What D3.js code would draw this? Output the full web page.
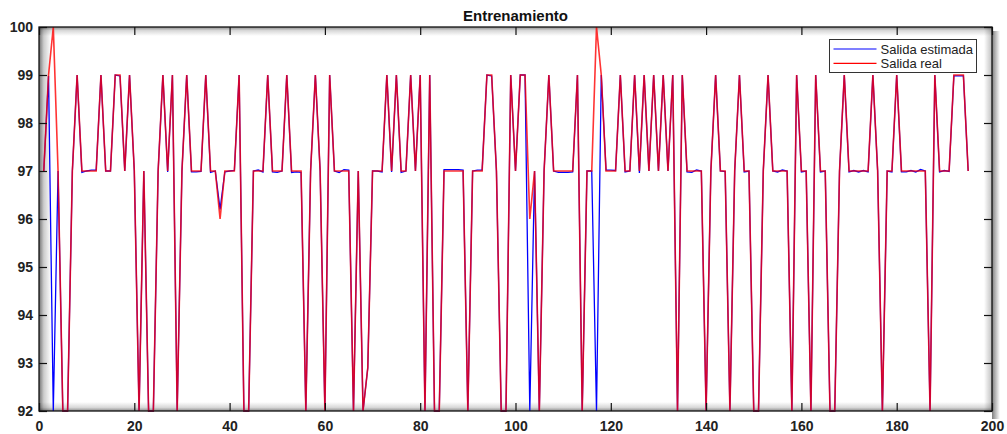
<!DOCTYPE html>
<html>
<head>
<meta charset="utf-8">
<script src="https://cdn.jsdelivr.net/npm/d3@7"></script>
<style>
  html, body { margin: 0; padding: 0; background: #fff; }
  svg { display: block; font-family: "Liberation Sans", Arial, Helvetica, sans-serif; }
</style>
</head>
<body>
<svg id="chart" width="1007" height="434"></svg>
<script>
// Sample numbers (1..195) and the two output series
const sampleCount = 195;

const salidaReal = [
  97, 99, 100, 97, 92, 92, 97, 99, 97, 97,
  97, 97, 99, 97, 97, 99, 99, 97, 99, 97,
  92, 97, 92, 92, 97, 99, 97, 99, 92, 97,
  99, 97, 97, 97, 99, 97, 97, 96, 97, 97,
  97, 99, 92, 92, 97, 97, 97, 99, 97, 97,
  97, 99, 97, 97, 97, 92, 97, 99, 97, 92,
  99, 97, 97, 97, 97, 92, 97, 92, 92.9, 97,
  97, 97, 99, 97, 99, 97, 97, 99, 97, 99,
  92, 99, 92, 92, 97, 97, 97, 97, 97, 92,
  97, 97, 97, 99, 99, 97, 92, 92, 99, 97,
  99, 99, 96, 97, 92, 97, 99, 97, 97, 97,
  97, 97, 99, 92, 97, 97, 100, 99, 97, 97,
  97, 99, 97, 97, 99, 97, 99, 97, 99, 97,
  99, 97, 99, 92, 99, 97, 97, 97, 97, 92,
  97, 99, 97, 97, 92, 97, 99, 97, 97, 92,
  92, 97, 99, 97, 97, 97, 97, 92, 99, 97,
  97, 92, 99, 97, 97, 92, 92, 97, 99, 97,
  97, 97, 97, 97, 99, 97, 92, 97, 97, 99,
  97, 97, 97, 97, 97, 97, 92, 99, 97, 97,
  97, 99, 99, 99, 97
];

const salidaEstimada = [
  97, 98.98, 92, 97, 92, 92, 97, 99, 96.97, 97,
  97.02, 97.02, 99, 97, 97, 99, 98.98, 97, 99, 97,
  92, 97, 92, 92, 97, 99, 96.98, 99, 92, 97,
  99, 96.98, 96.98, 96.99, 99, 96.97, 97, 96.2, 96.98, 97,
  97.01, 99, 92, 92, 97, 97.02, 96.98, 99, 96.98, 96.97,
  97, 99, 96.97, 96.98, 96.97, 92, 97, 99, 97, 92,
  99, 97, 96.97, 97.03, 97.02, 92, 97, 92, 92.9, 97,
  97, 96.98, 99, 96.98, 99, 96.97, 97, 99, 97, 99,
  92, 99, 92, 92, 97.03, 97.03, 97.03, 97.03, 97.02, 92,
  97, 97.02, 97.02, 99, 98.98, 97, 92, 92, 99, 97,
  99, 99, 92, 97, 92, 97, 99, 97, 96.97, 96.97,
  96.97, 96.98, 99, 92, 97, 97, 92, 99, 97.02, 97.02,
  97.01, 99, 96.98, 97, 99, 96.96, 99, 97, 99, 97,
  99, 97, 99, 92, 99, 96.98, 96.97, 97.02, 97, 92,
  97, 99, 97, 96.99, 92, 97, 99, 96.98, 97, 92,
  92, 97, 99, 97, 96.98, 97.02, 97, 92, 99, 96.98,
  97, 92, 99, 96.98, 97, 92, 92, 97, 99, 96.98,
  97.01, 96.98, 97.01, 96.98, 99, 97, 92, 97, 96.98, 99,
  96.98, 96.98, 97.01, 96.98, 97.03, 97, 92, 99, 96.98, 97.01,
  96.99, 98.98, 98.98, 98.98, 97
];

const xTicks = [0, 20, 40, 60, 80, 100, 120, 140, 160, 180, 200];
const yTicks = [92, 93, 94, 95, 96, 97, 98, 99, 100];
const chartTitle = "Entrenamiento";
const legendLabels = ["Salida estimada", "Salida real"];

const svg = d3.select("#chart");
const plot = { left: 39, right: 992, top: 27, bottom: 411 };

const x = d3.scaleLinear().domain([0, 200]).range([plot.left, plot.right]);
const y = d3.scaleLinear().domain([92, 100]).range([plot.bottom, plot.top]);

const defs = svg.append("defs");
function grad(id, x1, y1, x2, y2, stops) {
  const g = defs.append("linearGradient").attr("id", id)
    .attr("x1", x1).attr("y1", y1).attr("x2", x2).attr("y2", y2);
  stops.forEach(s => g.append("stop").attr("offset", s[0])
    .attr("stop-color", s[1]).attr("stop-opacity", s[2]));
}
grad("shLeft", 0, 0, 1, 0, [[0, "#000", 0.55], [0.4, "#000", 0.2], [1, "#000", 0]]);
grad("shTop", 0, 0, 0, 1, [[0, "#000", 0.45], [0.4, "#000", 0.15], [1, "#000", 0]]);
grad("shBottom", 0, 1, 0, 0, [[0, "#000", 0.45], [0.4, "#000", 0.15], [1, "#000", 0]]);
grad("shRight", 0, 0, 1, 0, [[0, "#000", 0.5], [1, "#000", 0]]);
grad("shRightIn", 1, 0, 0, 0, [[0, "#000", 0.25], [1, "#000", 0]]);

const pw = plot.right - plot.left, ph = plot.bottom - plot.top;

// Bevel shading round the axes box
svg.append("rect").attr("x", plot.left).attr("y", plot.top).attr("width", 12).attr("height", ph).attr("fill", "url(#shLeft)");
svg.append("rect").attr("x", plot.left).attr("y", plot.top).attr("width", pw).attr("height", 9).attr("fill", "url(#shTop)");
svg.append("rect").attr("x", plot.left).attr("y", plot.bottom - 9).attr("width", pw).attr("height", 9).attr("fill", "url(#shBottom)");
svg.append("rect").attr("x", plot.right - 8).attr("y", plot.top).attr("width", 8).attr("height", ph).attr("fill", "url(#shRightIn)");
svg.append("rect").attr("x", plot.right).attr("y", plot.top + 4).attr("width", 8).attr("height", ph + 4).attr("fill", "url(#shRight)");

// Series lines: estimate first, measured output on top
const samples = d3.range(1, sampleCount + 1);
const line = d3.line().x((d, i) => x(samples[i])).y(d => y(d));

svg.append("path").datum(salidaEstimada)
  .attr("fill", "none").attr("stroke", "#0000ff").attr("stroke-width", 1.3)
  .attr("stroke-linejoin", "miter").attr("d", line);
svg.append("path").datum(salidaReal)
  .attr("fill", "none").attr("stroke", "#ff0000").attr("stroke-width", 1.6)
  .attr("stroke-opacity", 0.8).attr("stroke-linejoin", "miter").attr("d", line);

// Axes with inward ticks on all four sides
const tickLen = 8;
const axB = d3.axisBottom(x).tickValues(xTicks).tickSizeInner(-tickLen).tickSizeOuter(0).tickPadding(10).tickFormat(d3.format("d"));
const axT = d3.axisTop(x).tickValues(xTicks).tickSizeInner(-tickLen).tickSizeOuter(0).tickFormat("");
const axL = d3.axisLeft(y).tickValues(yTicks).tickSizeInner(-tickLen).tickSizeOuter(0).tickPadding(6).tickFormat(d3.format("d"));
const axR = d3.axisRight(y).tickValues(yTicks).tickSizeInner(-tickLen).tickSizeOuter(0).tickFormat("");

function styleAxis(g) {
  g.select(".domain").remove();
  g.selectAll(".tick line").attr("stroke", "#111").attr("stroke-width", 1.2);
  g.selectAll(".tick text").attr("fill", "#222").attr("font-size", 14).attr("font-weight", "bold");
}
svg.append("g").attr("transform", `translate(0,${plot.bottom})`).call(axB).call(styleAxis)
  .selectAll(".tick text").attr("dy", "0.71em");
svg.append("g").attr("transform", `translate(0,${plot.top})`).call(axT).call(styleAxis);
svg.append("g").attr("transform", `translate(${plot.left},0)`).call(axL).call(styleAxis);
svg.append("g").attr("transform", `translate(${plot.right},0)`).call(axR).call(styleAxis);

// Axes box
svg.append("rect").attr("x", plot.left).attr("y", plot.top).attr("width", pw).attr("height", ph)
  .attr("fill", "none").attr("stroke", "#111").attr("stroke-width", 1.3);

// Title
svg.append("text").attr("x", (plot.left + plot.right) / 2).attr("y", 21)
  .attr("text-anchor", "middle").attr("font-size", 15).attr("font-weight", "bold")
  .attr("fill", "#111").text(chartTitle);

// Legend
const leg = svg.append("g").attr("transform", "translate(829.5,39.5)");
leg.append("rect").attr("width", 147).attr("height", 33).attr("fill", "#fff")
  .attr("stroke", "#333").attr("stroke-width", 1);
const legColors = ["#0000ff", "#ff0000"];
legendLabels.forEach((lab, i) => {
  const yy = 9.5 + i * 14.3;
  leg.append("line").attr("x1", 4).attr("x2", 47).attr("y1", yy).attr("y2", yy)
    .attr("stroke", legColors[i]).attr("stroke-width", 1.2);
  leg.append("text").attr("x", 51).attr("y", yy + 4.5).attr("font-size", 13)
    .attr("fill", "#222").text(lab);
});
</script>
</body>
</html>
